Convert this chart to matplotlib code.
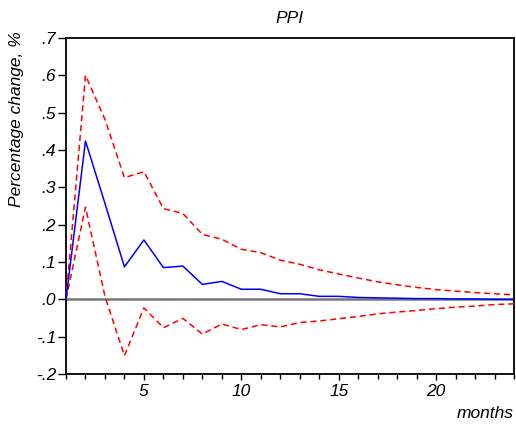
import matplotlib
matplotlib.use("Agg")
import matplotlib.pyplot as plt
from matplotlib.ticker import FixedLocator, FuncFormatter, MultipleLocator

months = list(range(1, 25))
response = [0.0, 0.424, 0.257, 0.087, 0.159, 0.085, 0.089, 0.040, 0.048, 0.027,
            0.027, 0.015, 0.015, 0.008, 0.008, 0.005, 0.004, 0.003, 0.002, 0.002,
            0.001, 0.001, 0.000, 0.000]
upper = [0.0, 0.600, 0.482, 0.326, 0.342, 0.243, 0.230, 0.174, 0.161, 0.134,
         0.125, 0.105, 0.094, 0.079, 0.068, 0.057, 0.047, 0.039, 0.032, 0.026,
         0.022, 0.018, 0.015, 0.012]
lower = [0.0, 0.247, 0.008, -0.151, -0.023, -0.076, -0.051, -0.093, -0.066, -0.081,
         -0.068, -0.074, -0.062, -0.058, -0.052, -0.046, -0.039, -0.034, -0.030, -0.025,
         -0.021, -0.018, -0.014, -0.012]
y_ticks = [-0.2, -0.1, 0.0, 0.1, 0.2, 0.3, 0.4, 0.5, 0.6, 0.7]
x_ticks = [5, 10, 15, 20]

plt.rcParams['font.family'] = ['Liberation Sans', 'DejaVu Sans']

fig = plt.figure(figsize=(5.16, 4.32), dpi=100)
ax = fig.add_axes([66/516, 1-374/432, (514-66)/516, (374-38)/432])

ax.axhline(0, color='#777777', lw=1.8, zorder=1)
ax.plot(months, upper, color='red', lw=1.1, ls=(0, (4, 2.5)), zorder=3)
ax.plot(months, lower, color='red', lw=1.1, ls=(0, (4, 2.5)), zorder=3)
ax.plot(months, response, color='blue', lw=1.1, zorder=4)

ax.set_xlim(1, 24)
ax.set_ylim(-0.2, 0.7)
ax.yaxis.set_major_locator(FixedLocator(y_ticks))

def yfmt(v, pos):
    s = f"{v:.1f}"
    s = s.replace("0.", ".")
    if s == "-.0":
        s = ".0"
    return s

ax.yaxis.set_major_formatter(FuncFormatter(yfmt))
ax.xaxis.set_major_locator(FixedLocator(x_ticks))
ax.xaxis.set_minor_locator(MultipleLocator(1))

for sp in ax.spines.values():
    sp.set_linewidth(1.3)
    sp.set_color('black')

ax.tick_params(axis='y', direction='out', length=5.5, width=1, labelsize=12.5, pad=1.5)
ax.tick_params(axis='x', which='major', direction='out', length=4.5, width=1, labelsize=12.5, pad=3)
ax.tick_params(axis='x', which='minor', direction='out', length=3.5, width=1)
for lab in ax.get_xticklabels() + ax.get_yticklabels():
    lab.set_fontstyle('italic')

ax.set_title('PPI', fontsize=12.5, style='italic', pad=10.5)
ax.set_ylabel('Percentage change, %', fontsize=12.5, style='italic', loc='top', labelpad=9)
ax.yaxis.label.set_y(1.02)
fig.text(514/516, 1-414/432, 'months', ha='right', va='center', fontsize=12.5, style='italic')

fig.savefig('out.png', dpi=100)
